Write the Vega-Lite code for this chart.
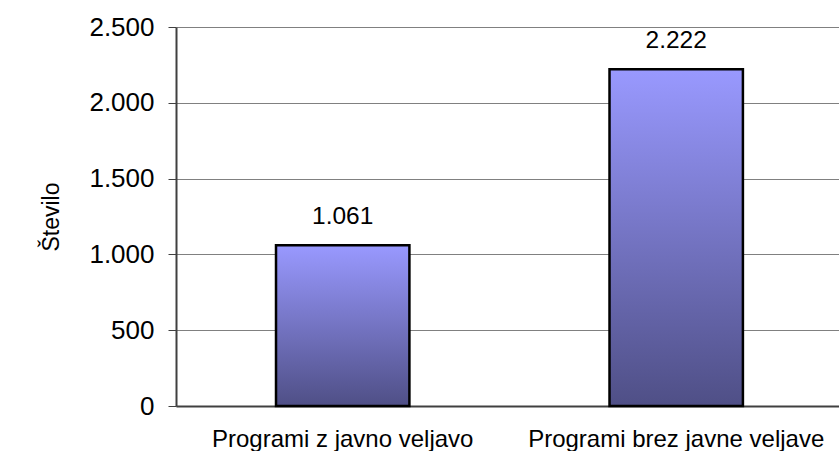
{
  "$schema": "https://vega.github.io/schema/vega-lite/v6.json",
  "width": 663,
  "height": 379,
  "autosize": {"type": "none"},
  "padding": {"left": 176, "top": 27, "right": 0, "bottom": 45},
  "background": "white",
  "config": {
    "view": {"stroke": null},
    "font": "Liberation Sans",
    "locale": {"number": {"decimal": ",", "thousands": ".", "grouping": [3], "currency": ["", " €"]}}
  },
  "data": {"values": [
    {"kategorija": "Programi z javno veljavo", "stevilo": 1061},
    {"kategorija": "Programi brez javne veljave", "stevilo": 2222}
  ]},
  "encoding": {
    "x": {
      "field": "kategorija", "type": "nominal", "sort": null,
      "scale": {"paddingInner": 0.6, "paddingOuter": 0.294, "align": 0.51},
      "axis": {"title": null, "labelAngle": 0, "labelFontSize": 24, "labelColor": "black", "labelLimit": 0, "ticks": false, "labelPadding": 21, "domainColor": "#404040", "domainWidth": 2}
    },
    "y": {
      "field": "stevilo", "type": "quantitative",
      "scale": {"domain": [0, 2500], "nice": false},
      "axis": {"title": "Število", "titleFontSize": 23, "titleFontWeight": "normal", "titleColor": "black", "titlePadding": 25,
        "values": [0, 500, 1000, 1500, 2000, 2500], "format": ",d",
        "labelFontSize": 26, "labelColor": "black", "labelPadding": 14, "tickSize": 8, "tickColor": "#404040",
        "domainColor": "#404040", "domainWidth": 2,
        "grid": true, "gridColor": "#808080", "gridWidth": 1.2}
    }
  },
  "layer": [
    {
      "mark": {"type": "bar", "stroke": "black", "strokeWidth": 2.5,
        "fill": {"gradient": "linear", "x1": 0, "y1": 0, "x2": 0, "y2": 1,
          "stops": [{"offset": 0, "color": "#9999ff"}, {"offset": 1, "color": "#4f4f86"}]}}
    },
    {
      "mark": {"type": "text", "dy": -28, "fontSize": 24.5, "color": "black"},
      "encoding": {"text": {"field": "stevilo", "type": "quantitative", "format": ",d"}}
    }
  ]
}
